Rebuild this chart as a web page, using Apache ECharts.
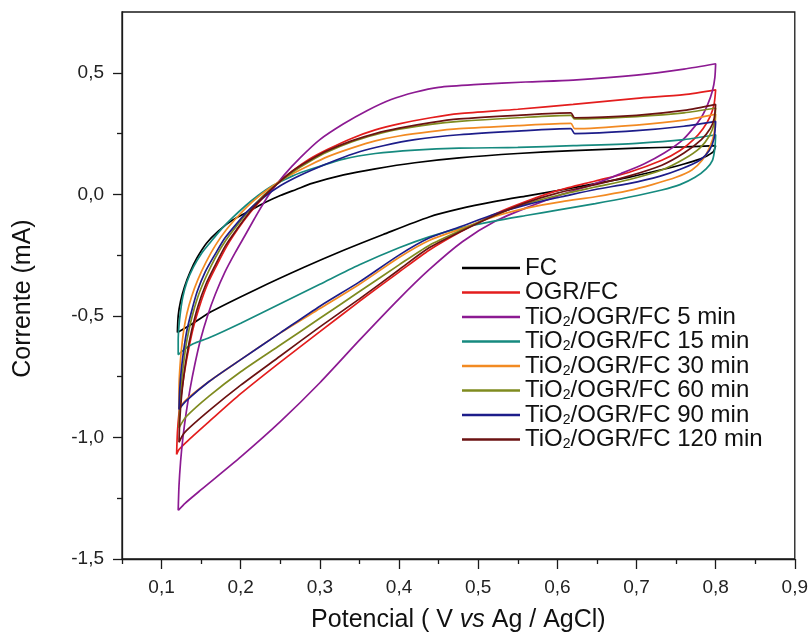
<!DOCTYPE html>
<html>
<head>
<meta charset="utf-8">
<script src="https://cdn.jsdelivr.net/npm/echarts@6/dist/echarts.min.js"></script>
<style>
  html, body { margin: 0; padding: 0; background: #fff; }
  #chart { width: 811px; height: 639px; }
</style>
</head>
<body>
<div id="chart"></div>
<script>
// Cyclic voltammograms: potential (V vs Ag/AgCl) against current (mA).
// Each loop runs from the lowest potential along the anodic branch up to 0.8 V
// and returns along the cathodic branch.

const seriesNames = [
  'FC',
  'OGR/FC',
  'TiO2/OGR/FC 5 min',
  'TiO2/OGR/FC 15 min',
  'TiO2/OGR/FC 30 min',
  'TiO2/OGR/FC 60 min',
  'TiO2/OGR/FC 90 min',
  'TiO2/OGR/FC 120 min'
];

const seriesColors = ['#000000', '#e31d1d', '#8c1a92', '#168a7f', '#f28a22', '#7f8b1f', '#1d1d8a', '#6b1212'];

const xTicks = [0.1, 0.2, 0.3, 0.4, 0.5, 0.6, 0.7, 0.8, 0.9];
const xMinorTicks = [0.05, 0.15, 0.25, 0.35, 0.45, 0.55, 0.65, 0.75, 0.85];
const yTicks = [-1.5, -1.0, -0.5, 0.0, 0.5];
const yMinorTicks = [-1.25, -0.75, -0.25, 0.25];

const cvFC = [
  [0.120,-0.568],[0.121,-0.50],[0.124,-0.44],[0.129,-0.38],[0.136,-0.32],[0.145,-0.26],[0.157,-0.20],
  [0.172,-0.15],[0.190,-0.105],[0.210,-0.07],[0.230,-0.035],[0.250,-0.005],[0.270,0.02],[0.290,0.045],
  [0.330,0.08],[0.370,0.105],[0.420,0.13],[0.476,0.15],[0.550,0.168],[0.620,0.18],[0.700,0.19],
  [0.760,0.195],[0.800,0.20],
  [0.797,0.175],[0.790,0.16],[0.780,0.145],[0.760,0.125],[0.730,0.10],[0.690,0.07],[0.648,0.044],
  [0.600,0.015],[0.564,-0.005],[0.520,-0.03],[0.476,-0.06],[0.438,-0.093],[0.380,-0.165],[0.330,-0.23],
  [0.280,-0.30],[0.220,-0.39],[0.163,-0.482],[0.140,-0.53],[0.120,-0.568]
];

const cvOGR = [
  [0.119,-1.07],[0.120,-0.98],[0.122,-0.90],[0.125,-0.82],[0.129,-0.73],[0.134,-0.64],[0.140,-0.55],
  [0.148,-0.46],[0.158,-0.37],[0.170,-0.29],[0.183,-0.21],[0.197,-0.14],[0.212,-0.075],[0.228,-0.015],
  [0.245,0.04],[0.265,0.095],[0.287,0.145],[0.310,0.185],[0.340,0.23],[0.370,0.265],[0.400,0.29],
  [0.440,0.315],[0.476,0.332],[0.550,0.35],[0.620,0.37],[0.700,0.395],[0.760,0.41],[0.800,0.43],
  [0.798,0.37],[0.793,0.32],[0.784,0.27],[0.772,0.225],[0.755,0.18],[0.732,0.14],[0.690,0.09],
  [0.648,0.055],[0.600,0.015],[0.560,-0.03],[0.522,-0.08],[0.480,-0.15],[0.438,-0.23],[0.400,-0.32],
  [0.350,-0.44],[0.300,-0.565],[0.250,-0.69],[0.200,-0.82],[0.160,-0.935],[0.131,-1.02],[0.122,-1.05],
  [0.119,-1.07]
];

const cvTi5 = [
  [0.121,-1.30],[0.122,-1.20],[0.124,-1.10],[0.127,-1.00],[0.131,-0.90],[0.136,-0.80],[0.142,-0.70],
  [0.149,-0.60],[0.158,-0.50],[0.168,-0.41],[0.180,-0.32],[0.193,-0.24],[0.207,-0.16],[0.220,-0.085],
  [0.236,0.0],[0.255,0.08],[0.275,0.15],[0.300,0.225],[0.330,0.29],[0.360,0.345],[0.390,0.39],
  [0.420,0.42],[0.450,0.44],[0.500,0.452],[0.560,0.462],[0.620,0.47],[0.700,0.49],[0.760,0.515],
  [0.800,0.537],
  [0.799,0.48],[0.796,0.426],[0.790,0.37],[0.782,0.317],[0.770,0.265],[0.757,0.22],[0.735,0.17],
  [0.710,0.126],[0.680,0.085],[0.648,0.044],[0.606,0.0],[0.565,-0.05],[0.522,-0.11],[0.480,-0.195],
  [0.438,-0.31],[0.400,-0.43],[0.350,-0.60],[0.300,-0.775],[0.250,-0.935],[0.200,-1.08],[0.150,-1.215],
  [0.130,-1.27],[0.121,-1.30]
];

const cvTi15 = [
  [0.121,-0.66],[0.121,-0.60],[0.122,-0.54],[0.124,-0.48],[0.127,-0.42],[0.132,-0.36],[0.140,-0.30],
  [0.150,-0.245],[0.161,-0.20],[0.175,-0.145],[0.190,-0.095],[0.205,-0.05],[0.222,-0.005],[0.240,0.035],
  [0.265,0.075],[0.290,0.105],[0.330,0.145],[0.370,0.168],[0.420,0.182],[0.476,0.19],[0.550,0.193],
  [0.620,0.20],[0.700,0.21],[0.760,0.225],[0.800,0.245],
  [0.799,0.19],[0.796,0.14],[0.788,0.105],[0.774,0.07],[0.755,0.04],[0.732,0.018],[0.690,-0.012],
  [0.648,-0.038],[0.600,-0.065],[0.564,-0.085],[0.520,-0.11],[0.476,-0.14],[0.438,-0.175],[0.400,-0.22],
  [0.350,-0.29],[0.300,-0.37],[0.250,-0.45],[0.200,-0.53],[0.160,-0.59],[0.140,-0.615],[0.128,-0.64],
  [0.121,-0.66]
];

const cvTi30 = [
  [0.122,-0.88],[0.122,-0.80],[0.123,-0.72],[0.125,-0.64],[0.128,-0.56],[0.132,-0.49],[0.138,-0.42],
  [0.146,-0.35],[0.156,-0.28],[0.168,-0.21],[0.182,-0.145],[0.198,-0.085],[0.215,-0.03],[0.235,0.022],
  [0.260,0.075],[0.287,0.12],[0.310,0.155],[0.340,0.19],[0.370,0.22],[0.400,0.24],[0.440,0.258],
  [0.476,0.27],[0.550,0.283],[0.617,0.292],[0.622,0.27],[0.700,0.285],[0.760,0.305],[0.800,0.33],
  [0.798,0.25],[0.792,0.19],[0.783,0.14],[0.770,0.10],[0.750,0.07],[0.720,0.04],[0.690,0.015],
  [0.648,-0.01],[0.606,-0.03],[0.564,-0.055],[0.522,-0.09],[0.480,-0.14],[0.438,-0.19],[0.400,-0.26],
  [0.350,-0.37],[0.300,-0.47],[0.250,-0.57],[0.200,-0.68],[0.160,-0.77],[0.131,-0.845],[0.122,-0.88]
];

const cvTi60 = [
  [0.122,-0.96],[0.123,-0.87],[0.125,-0.78],[0.128,-0.69],[0.132,-0.60],[0.138,-0.51],[0.146,-0.42],
  [0.156,-0.34],[0.168,-0.26],[0.181,-0.19],[0.196,-0.125],[0.211,-0.065],[0.227,-0.01],[0.245,0.04],
  [0.265,0.09],[0.287,0.135],[0.310,0.175],[0.340,0.215],[0.370,0.245],[0.400,0.268],[0.440,0.288],
  [0.476,0.30],[0.550,0.315],[0.617,0.325],[0.622,0.31],[0.700,0.32],[0.760,0.335],[0.800,0.355],
  [0.798,0.29],[0.792,0.24],[0.780,0.19],[0.760,0.145],[0.732,0.10],[0.690,0.06],[0.648,0.03],
  [0.600,-0.005],[0.560,-0.04],[0.522,-0.085],[0.480,-0.145],[0.438,-0.21],[0.400,-0.29],[0.350,-0.40],
  [0.300,-0.51],[0.250,-0.62],[0.200,-0.73],[0.160,-0.83],[0.131,-0.915],[0.122,-0.96]
];

const cvTi90 = [
  [0.122,-0.885],[0.123,-0.80],[0.125,-0.72],[0.128,-0.64],[0.132,-0.56],[0.138,-0.48],[0.145,-0.40],
  [0.155,-0.32],[0.167,-0.25],[0.180,-0.18],[0.195,-0.12],[0.210,-0.065],[0.230,-0.01],[0.250,0.035],
  [0.270,0.07],[0.290,0.10],[0.320,0.14],[0.350,0.175],[0.380,0.20],[0.420,0.225],[0.476,0.245],
  [0.550,0.26],[0.617,0.27],[0.622,0.25],[0.700,0.262],[0.760,0.28],[0.800,0.30],
  [0.798,0.23],[0.792,0.18],[0.780,0.14],[0.757,0.105],[0.730,0.075],[0.690,0.044],[0.648,0.02],
  [0.606,-0.01],[0.564,-0.04],[0.522,-0.08],[0.480,-0.13],[0.438,-0.18],[0.400,-0.25],[0.350,-0.36],
  [0.300,-0.46],[0.250,-0.57],[0.200,-0.68],[0.160,-0.77],[0.131,-0.85],[0.122,-0.885]
];

const cvTi120 = [
  [0.122,-1.02],[0.123,-0.93],[0.125,-0.84],[0.128,-0.75],[0.132,-0.66],[0.138,-0.56],[0.146,-0.46],
  [0.156,-0.37],[0.168,-0.29],[0.181,-0.21],[0.196,-0.14],[0.211,-0.075],[0.227,-0.015],[0.245,0.04],
  [0.265,0.095],[0.287,0.14],[0.310,0.18],[0.340,0.22],[0.370,0.25],[0.400,0.272],[0.440,0.295],
  [0.476,0.31],[0.550,0.325],[0.617,0.335],[0.622,0.315],[0.700,0.325],[0.760,0.345],[0.800,0.37],
  [0.798,0.31],[0.793,0.27],[0.782,0.225],[0.760,0.17],[0.732,0.12],[0.690,0.075],[0.648,0.04],
  [0.600,0.005],[0.560,-0.035],[0.522,-0.085],[0.480,-0.15],[0.438,-0.22],[0.400,-0.31],[0.350,-0.43],
  [0.300,-0.545],[0.250,-0.665],[0.200,-0.785],[0.160,-0.89],[0.129,-0.98],[0.122,-1.02]
];

const loops = [cvFC, cvOGR, cvTi5, cvTi15, cvTi30, cvTi60, cvTi90, cvTi120];

const FONT = '"Liberation Sans", Arial, sans-serif';
const commaDecimal = v => v.toFixed(1).replace('.', ',');

const chart = echarts.init(document.getElementById('chart'), null, { renderer: 'canvas' });

const baseX = {
  type: 'value', min: 0.05, max: 0.9, position: 'bottom',
  splitLine: { show: false }
};
const baseY = {
  type: 'value', min: -1.5, max: 0.75, position: 'left',
  splitLine: { show: false }
};
const tickLine = { color: '#1a1a1a', width: 1.3 };

chart.setOption({
  animation: false,
  backgroundColor: '#ffffff',
  grid: {
    left: 122, right: 14, top: 12, bottom: 80,
    show: true, borderColor: '#1a1a1a', borderWidth: 1.3
  },
  legend: {
    orient: 'vertical',
    left: 462, top: 256,
    padding: 0,
    icon: 'rect',
    itemWidth: 58, itemHeight: 2.6,
    itemGap: 0.5,
    data: seriesNames,
    formatter: name => name.replace('TiO2', 'TiO{s|2}'),
    textStyle: {
      fontFamily: FONT, fontSize: 24, color: '#111', lineHeight: 24,
      rich: {
        s: { fontFamily: FONT, fontSize: 14, color: '#111', verticalAlign: 'bottom', lineHeight: 8 }
      }
    }
  },
  xAxis: [
    Object.assign({}, baseX, {
      name: 'Potencial ( V {i|vs} Ag / AgCl)',
      nameLocation: 'middle', nameGap: 49,
      nameTextStyle: {
        fontFamily: FONT, fontSize: 25, color: '#111',
        rich: { i: { fontFamily: FONT, fontSize: 25, fontStyle: 'italic', color: '#111' } }
      },
      axisLine: { show: true, onZero: false, lineStyle: tickLine },
      axisTick: { show: true, customValues: xTicks, length: 10, lineStyle: tickLine },
      axisLabel: {
        customValues: xTicks, margin: 19, formatter: commaDecimal,
        fontFamily: FONT, fontSize: 19, color: '#222'
      }
    }),
    Object.assign({}, baseX, {
      axisLine: { show: false, onZero: false },
      axisTick: { show: true, customValues: xMinorTicks, length: 5, lineStyle: tickLine },
      axisLabel: { show: false }
    })
  ],
  yAxis: [
    Object.assign({}, baseY, {
      name: 'Corrente (mA)',
      nameLocation: 'middle', nameGap: 86,
      nameTextStyle: { fontFamily: FONT, fontSize: 25, color: '#111', padding: [0, 26, 0, 0] },
      axisLine: { show: true, onZero: false, lineStyle: tickLine },
      axisTick: { show: true, customValues: yTicks, length: 9, lineStyle: tickLine },
      axisLabel: {
        customValues: yTicks, margin: 18, formatter: commaDecimal,
        fontFamily: FONT, fontSize: 19, color: '#222'
      }
    }),
    Object.assign({}, baseY, {
      axisLine: { show: false, onZero: false },
      axisTick: { show: true, customValues: yMinorTicks, length: 5, lineStyle: tickLine },
      axisLabel: { show: false }
    })
  ],
  series: loops.map((pts, i) => ({
    name: seriesNames[i],
    type: 'line',
    xAxisIndex: 0,
    yAxisIndex: 0,
    data: pts,
    showSymbol: false,
    symbol: 'none',
    smooth: 0.25,
    smoothMonotone: 'none',
    lineStyle: { color: seriesColors[i], width: 1.7 },
    itemStyle: { color: seriesColors[i] },
    emphasis: { disabled: true }
  }))
});
</script>
</body>
</html>
